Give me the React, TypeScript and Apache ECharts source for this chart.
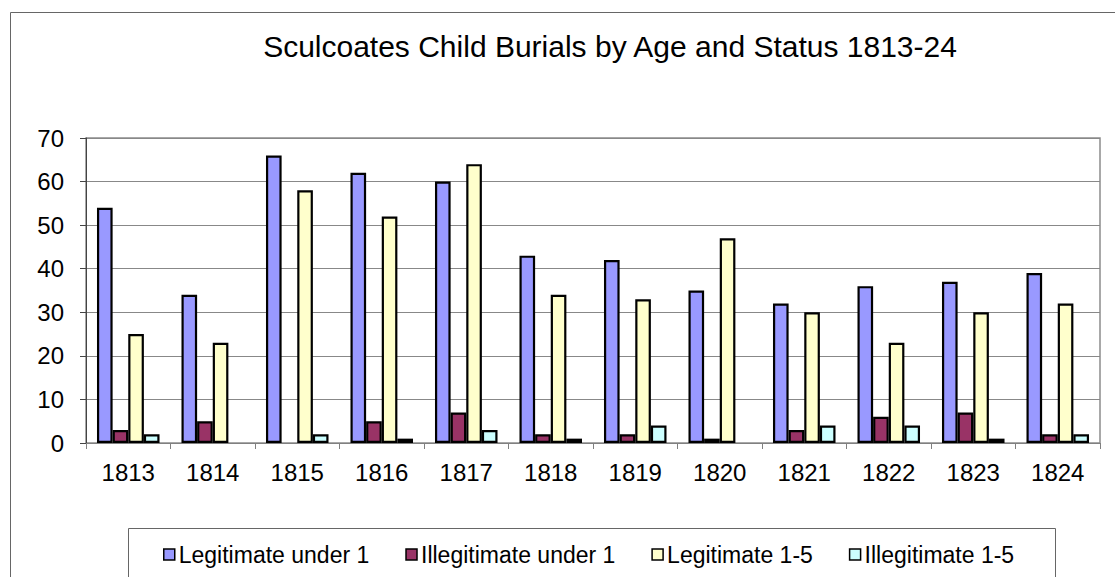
import React, { useEffect, useRef } from "react";
import * as echarts from "echarts";

const years = ["1813", "1814", "1815", "1816", "1817", "1818", "1819", "1820", "1821", "1822", "1823", "1824"];
const legitUnder1 = [54, 34, 66, 62, 60, 43, 42, 35, 32, 36, 37, 39];
const illegitUnder1 = [3, 5, 0, 5, 7, 2, 2, 1, 3, 6, 7, 2];
const legit1to5 = [25, 23, 58, 52, 64, 34, 33, 47, 30, 23, 30, 32];
const illegit1to5 = [2, 0, 2, 1, 3, 1, 4, 0, 4, 4, 1, 2];

const seriesNames = ["Legitimate under 1", "Illegitimate under 1", "Legitimate 1-5", "Illegitimate 1-5"];
const seriesColors = ["#9999FF", "#993366", "#FFFFCC", "#CCFFFF"];
const seriesValues = [legitUnder1, illegitUnder1, legit1to5, illegit1to5];

const FONT = "'Liberation Sans', Arial, sans-serif";

export default function App() {
  const ref = useRef<HTMLDivElement>(null);
  useEffect(() => {
    if (!ref.current) return;
    const chart = echarts.init(ref.current, undefined, { renderer: "svg" });
    chart.setOption({
      animation: false,
      backgroundColor: "#ffffff",
      title: {
        text: "Sculcoates Child Burials by Age and Status 1813-24",
        left: 605,
        top: 26,
        textAlign: "center",
        textStyle: { fontFamily: FONT, fontSize: 30, fontWeight: "normal", color: "#000" },
      },
      grid: {
        left: 86,
        right: 15,
        top: 138,
        bottom: 134,
        show: true,
        borderColor: "#8c8c8c",
        borderWidth: 1.5,
        backgroundColor: "transparent",
      },
      legend: {
        left: 158,
        top: 538,
        itemWidth: 11,
        itemHeight: 11,
        itemGap: 36,
        icon: "rect",
        textStyle: { fontFamily: FONT, fontSize: 23, color: "#000", padding: [0, 0, 0, -1] },
        itemStyle: { borderColor: "#000", borderWidth: 1.5 },
        data: seriesNames,
      },
      xAxis: {
        type: "category",
        data: years,
        axisLine: { lineStyle: { color: "#808080", width: 1 } },
        axisTick: { show: true, length: 6, inside: false, lineStyle: { color: "#808080" } },
        axisLabel: { fontFamily: FONT, fontSize: 24, color: "#000", margin: 17 },
      },
      yAxis: {
        type: "value",
        min: 0,
        max: 70,
        interval: 10,
        axisLine: { show: true, lineStyle: { color: "#444", width: 1 } },
        axisTick: { show: true, length: 6, lineStyle: { color: "#444" } },
        axisLabel: { fontFamily: FONT, fontSize: 24, color: "#000", margin: 22 },
        splitLine: { show: true, lineStyle: { color: "#888", width: 1 } },
      },
      series: seriesNames.map((name, i) => ({
        name,
        type: "bar",
        data: seriesValues[i].map((v) => (v === 0 ? "-" : v)),
        barGap: "0%",
        barCategoryGap: "26%",
        itemStyle: { color: seriesColors[i], borderColor: "#000", borderWidth: 2.2 },
      })),
      graphic: [
        {
          type: "rect",
          shape: { x: 10.5, y: 12.5, width: 1200, height: 700 },
          style: { fill: "none", stroke: "#666", lineWidth: 1 },
          silent: true,
          z: 0,
        },
        {
          type: "rect",
          shape: { x: 128.5, y: 528.5, width: 927, height: 200 },
          style: { fill: "none", stroke: "#666", lineWidth: 1 },
          silent: true,
          z: 0,
        },
      ],
    });
    return () => chart.dispose();
  }, []);
  return <div ref={ref} style={{ position: "fixed", left: 0, top: 0, width: 1115, height: 577 }} />;
}
